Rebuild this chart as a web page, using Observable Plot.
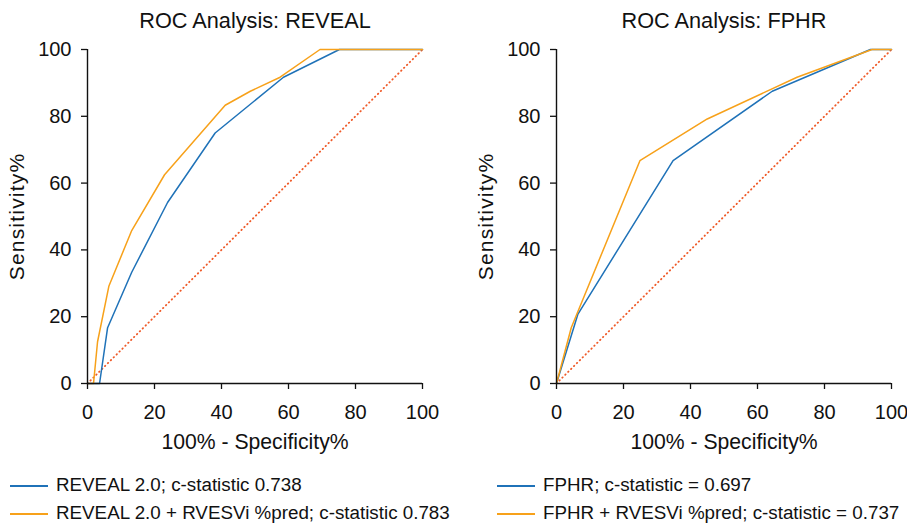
<!DOCTYPE html>
<html><head><meta charset="utf-8">
<script src="https://cdn.jsdelivr.net/npm/d3@7"></script>
<script src="https://cdn.jsdelivr.net/npm/@observablehq/plot@0.6"></script>
<style>
body{margin:0;background:#fff;font-family:"Liberation Sans",Arial,Helvetica,sans-serif;}
#wrap{position:relative;width:907px;height:523px;overflow:hidden;background:#fff;}
#left{position:absolute;left:0;top:0;}
#right{position:absolute;left:453px;top:0;}
.leg{position:absolute;font-size:18.8px;line-height:22px;color:#111;white-space:nowrap;}
.leg .sw{display:inline-block;width:38px;height:2px;vertical-align:middle;margin-right:8px;}
</style></head>
<body><div id="wrap"><div id="left"></div><div id="right"></div><div id="legend"></div></div>
<script>
// ---- data ----
const tickValues = [0, 20, 40, 60, 80, 100];
const diagonal = [0, 100];

const revealFpr = [0, 3.6, 6.0, 13.2, 23.9, 38.1, 58.5, 75.2, 100];
const revealTpr = [0, 0, 16.7, 33.3, 54.2, 75.0, 91.7, 100, 100];
const revealRvFpr = [0, 1.8, 3.0, 6.4, 13.2, 23.0, 41.1, 48.6, 57.5, 69.4, 75.2, 100];
const revealRvTpr = [0, 0, 12.5, 29.2, 45.8, 62.5, 83.3, 87.5, 91.7, 100, 100, 100];

const fphrFpr = [0, 6.4, 34.8, 64.4, 93.7, 100];
const fphrTpr = [0, 20.8, 66.7, 87.5, 100, 100];
const fphrRvFpr = [0, 4.4, 24.9, 45.0, 71.8, 94.2, 100];
const fphrRvTpr = [0, 16.7, 66.7, 79.2, 91.7, 100, 100];

const titles = ["ROC Analysis: REVEAL", "ROC Analysis: FPHR"];
const xLabel = "100% - Specificity%";
const yLabel = "Sensitivity%";
const legendLeft = ["REVEAL 2.0; c-statistic 0.738", "REVEAL 2.0 + RVESVi %pred; c-statistic 0.783"];
const legendRight = ["FPHR; c-statistic = 0.697", "FPHR + RVESVi %pred; c-statistic = 0.737"];

const BLUE = "#1f72b8";
const ORANGE = "#f7a11a";
const DIAG = "#ef5a28";
const FONT = '"Liberation Sans", Arial, Helvetica, sans-serif';

const toRows = (xs, ys) => xs.map((x, i) => ({x, y: ys[i]}));

function roc({title, a, b, width, marginLeft, marginRight}) {
  const svg = Plot.plot({
    width, height: 460,
    marginLeft, marginRight, marginTop: 49, marginBottom: 77,
    x: {domain: [0, 100]},
    y: {domain: [0, 100]},
    style: {fontFamily: FONT, fontSize: "20px", color: "#111", background: "white", overflow: "visible"},
    marks: [
      Plot.line(toRows(diagonal, diagonal), {x: "x", y: "y", stroke: DIAG, strokeWidth: 1.8, strokeDasharray: "0.5,3.6", strokeLinecap: "round"}),
      Plot.line(a, {x: "x", y: "y", stroke: BLUE, strokeWidth: 1.5}),
      Plot.line(b, {x: "x", y: "y", stroke: ORANGE, strokeWidth: 1.5}),
      Plot.ruleX([0], {stroke: "#111", strokeWidth: 1.4}),
      Plot.ruleY([0], {stroke: "#111", strokeWidth: 1.4}),
      Plot.axisX({ticks: tickValues, tickSize: 6, tickPadding: 15, fontSize: 20, label: null, strokeWidth: 1.3}),
      Plot.axisY({ticks: tickValues, tickSize: 6, tickPadding: 10, fontSize: 20, label: null, strokeWidth: 1.3}),
      Plot.text([title], {text: d => d, frameAnchor: "top", dy: -28, fontSize: 21.7, lineAnchor: "middle"}),
      Plot.text([xLabel], {text: d => d, frameAnchor: "bottom", dy: 59, fontSize: 21.2, lineAnchor: "middle"}),
      Plot.text([yLabel], {text: d => d, frameAnchor: "left", dx: -70, dy: 0, rotate: -90, fontSize: 21, textAnchor: "middle", lineAnchor: "middle"})
    ]
  });
  svg.querySelectorAll("text").forEach(t => {
    if (t.textContent === yLabel) t.style.letterSpacing = "1.2px";
  });
  return svg;
}

document.getElementById("left").append(roc({
  title: titles[0],
  a: toRows(revealFpr, revealTpr),
  b: toRows(revealRvFpr, revealRvTpr),
  width: 453, marginLeft: 87, marginRight: 31
}));
document.getElementById("right").append(roc({
  title: titles[1],
  a: toRows(fphrFpr, fphrTpr),
  b: toRows(fphrRvFpr, fphrRvTpr),
  width: 454, marginLeft: 103, marginRight: 16
}));

const legend = document.getElementById("legend");
function addLeg(text, color, left, top) {
  const d = document.createElement("div");
  d.className = "leg";
  d.style.left = left + "px";
  d.style.top = top + "px";
  const sw = document.createElement("span");
  sw.className = "sw";
  sw.style.backgroundColor = color;
  d.append(sw, document.createTextNode(text));
  legend.append(d);
}
addLeg(legendLeft[0], BLUE, 10, 474);
addLeg(legendLeft[1], ORANGE, 10, 502);
addLeg(legendRight[0], BLUE, 497, 474);
addLeg(legendRight[1], ORANGE, 497, 502);
</script>
</body></html>
